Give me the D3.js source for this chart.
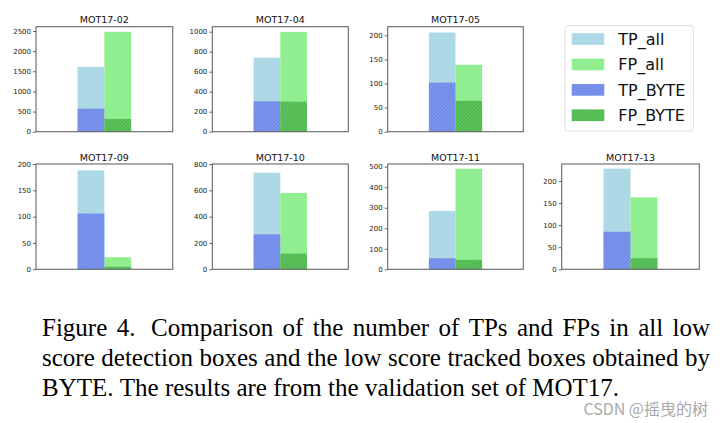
<!DOCTYPE html>
<html>
<head>
<meta charset="utf-8">
<script src="https://cdn.jsdelivr.net/npm/d3@7"></script>
<style>
  html, body { margin: 0; padding: 0; background: #fff; }
  svg { display: block; }
</style>
</head>
<body>
<svg id="chart" width="724" height="423"></svg>
<script>
// ---------------- data ----------------
const categories = ["MOT17-02", "MOT17-04", "MOT17-05", "MOT17-09", "MOT17-10", "MOT17-11", "MOT17-13"];
const tpAll  = [1610, 740, 206, 188, 734, 284, 228];
const fpAll  = [2480, 998, 139, 23, 580, 490, 163];
const tpByte = [570, 304, 102, 106, 266, 54, 85];
const fpByte = [315, 300, 64, 5, 119, 46, 25];
const yTickValues = [
  [0, 500, 1000, 1500, 2000, 2500],
  [0, 200, 400, 600, 800, 1000],
  [0, 50, 100, 150, 200],
  [0, 50, 100, 150, 200],
  [0, 200, 400, 600, 800],
  [0, 100, 200, 300, 400, 500],
  [0, 50, 100, 150, 200]
];
const yLimits = [2607, 1050, 218, 200, 800, 513, 238.5];
const legendLabels = ["TP_all", "FP_all", "TP_BYTE", "FP_BYTE"];
const captionLines = [
  "Figure 4.  Comparison of the number of TPs and FPs in all low",
  "score detection boxes and the low score tracked boxes obtained by",
  "BYTE. The results are from the validation set of MOT17."
];
const watermark = "CSDN @摇曳的树";

// ---------------- layout ----------------
const panels = [
  {x0: 36,    x1: 172.7, y0: 26.7, y1: 131.7},
  {x0: 212.3, x1: 348.3, y0: 26.7, y1: 131.7},
  {x0: 387.7, x1: 523.3, y0: 26.7, y1: 131.7},
  {x0: 36,    x1: 172.7, y0: 164,  y1: 269.3},
  {x0: 212.3, x1: 348.3, y0: 164,  y1: 269.3},
  {x0: 387.7, x1: 523.3, y0: 164,  y1: 269.3},
  {x0: 561.7, x1: 699.3, y0: 164,  y1: 269.3}
];
const colors = {
  tpAll: "#add8e6",
  fpAll: "#90ee90"
};

const svg = d3.select("#chart");
const defs = svg.append("defs");

function hatch(id, base, line) {
  const p = defs.append("pattern")
    .attr("id", id)
    .attr("patternUnits", "userSpaceOnUse")
    .attr("width", 2.5).attr("height", 2.5)
    .attr("patternTransform", "rotate(45)");
  p.append("rect").attr("width", 2.5).attr("height", 2.5).attr("fill", base);
  p.append("line").attr("x1", 0).attr("y1", 0).attr("x2", 0).attr("y2", 2.5)
    .attr("stroke", line).attr("stroke-width", 1);
}
hatch("hTP", "#7f97ec", "#5470de");
hatch("hFP", "#5ec55e", "#36a036");

const fills = [colors.tpAll, colors.fpAll, "url(#hTP)", "url(#hFP)"];

categories.forEach((name, i) => {
  const p = panels[i];
  const g = svg.append("g");
  const x = d3.scaleLinear().domain([-1.02, 1.02]).range([p.x0, p.x1]);
  const y = d3.scaleLinear().domain([0, yLimits[i]]).range([p.y1, p.y0]);

  const bars = [
    {x0: -0.4, x1: 0,   v: tpAll[i],  fill: fills[0]},
    {x0: 0,    x1: 0.4, v: fpAll[i],  fill: fills[1]},
    {x0: -0.4, x1: 0,   v: tpByte[i], fill: fills[2]},
    {x0: 0,    x1: 0.4, v: fpByte[i], fill: fills[3]}
  ];
  g.selectAll("rect.bar").data(bars).join("rect")
    .attr("class", "bar")
    .attr("x", d => x(d.x0))
    .attr("width", d => x(d.x1) - x(d.x0))
    .attr("y", d => y(d.v))
    .attr("height", d => y(0) - y(d.v))
    .attr("fill", d => d.fill);

  // frame
  g.append("rect")
    .attr("x", p.x0).attr("y", p.y0)
    .attr("width", p.x1 - p.x0).attr("height", p.y1 - p.y0)
    .attr("fill", "none").attr("stroke", "#666").attr("stroke-width", 1.1);

  // y axis
  const ax = g.append("g").attr("transform", `translate(${p.x0},0)`)
    .call(d3.axisLeft(y).tickValues(yTickValues[i]).tickSize(3).tickPadding(2).tickFormat(d3.format("d")));
  ax.select(".domain").remove();
  ax.selectAll(".tick line").attr("stroke", "#444").attr("stroke-width", 0.8);
  ax.selectAll(".tick text")
    .attr("font-family", "DejaVu Sans")
    .attr("font-size", 7)
    .attr("fill", "#222");

  g.append("text")
    .attr("x", (p.x0 + p.x1) / 2)
    .attr("y", p.y0 - 3.5)
    .attr("text-anchor", "middle")
    .attr("font-family", "DejaVu Sans")
    .attr("font-size", 9.5)
    .attr("fill", "#111")
    .text(name);
});

// legend
const lg = svg.append("g");
lg.append("rect")
  .attr("x", 565).attr("y", 25.7).attr("width", 128.3).attr("height", 105.3)
  .attr("rx", 2.5).attr("fill", "#fff").attr("stroke", "#ddd").attr("stroke-width", 1);
legendLabels.forEach((lab, k) => {
  const cy = 39 + k * 25.4;
  lg.append("rect")
    .attr("x", 571.7).attr("y", cy - 5.8).attr("width", 32.6).attr("height", 11.7)
    .attr("fill", fills[k]);
  lg.append("text")
    .attr("x", 618.3).attr("y", cy + 5.8)
    .attr("font-family", "DejaVu Sans")
    .attr("font-size", 16)
    .attr("fill", "#111")
    .text(lab);
});

// caption (justified lines)
const capLeft = 42, capRight = 710;
const baselines = [335.5, 366, 395.5];
const capSize = 25;
captionLines.forEach((line, li) => {
  const words = line.split(" ").filter(w => w.length);
  const tg = svg.append("g");
  const nodes = words.map(w => tg.append("text")
    .attr("font-family", "Liberation Serif")
    .attr("font-size", capSize)
    .attr("fill", "#000")
    .attr("y", baselines[li])
    .text(w));
  const widths = nodes.map(n => n.node().getComputedTextLength());
  const total = d3.sum(widths);
  const justify = li < captionLines.length - 1;
  const baseGap = capSize * 0.25;
  const gaps = words.length - 1;
  const extraFirst = li === 0 ? capSize * 0.25 : 0; // double space after "Figure 4."
  let gap = justify ? (capRight - capLeft - total - extraFirst) / gaps : baseGap;
  let cx = capLeft;
  nodes.forEach((n, k) => {
    n.attr("x", cx);
    cx += widths[k] + gap + (li === 0 && k === 1 ? extraFirst : 0);
  });
});

svg.append("text")
  .attr("x", 708).attr("y", 415)
  .attr("text-anchor", "end")
  .attr("font-family", "Noto Sans CJK SC")
  .attr("font-size", 16)
  .attr("fill", "#a8a8a8")
  .text(watermark);
</script>
</body>
</html>
